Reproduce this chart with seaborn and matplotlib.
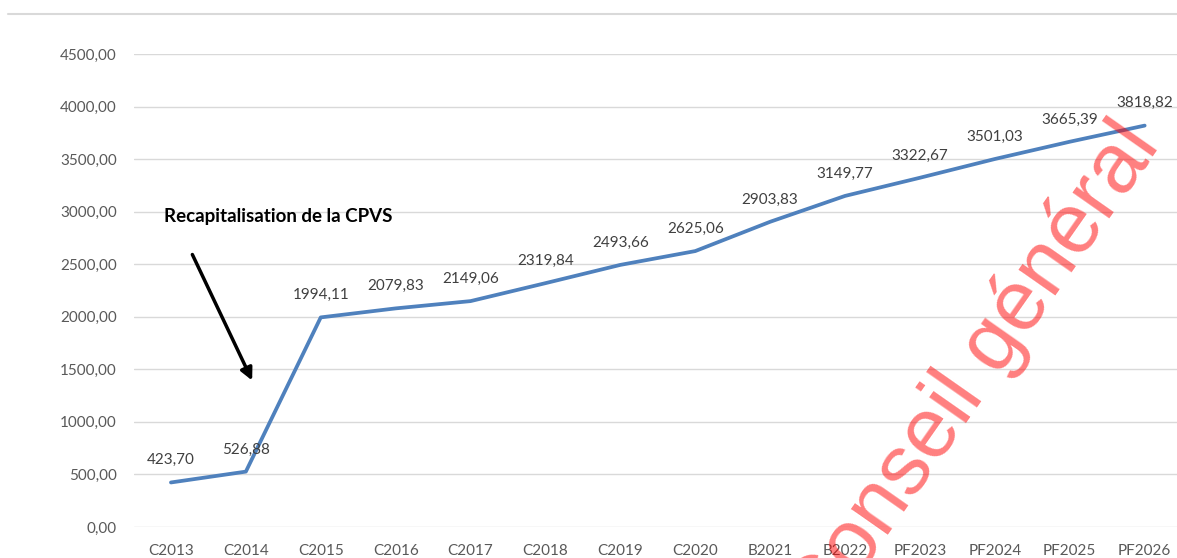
import numpy as np
import seaborn as sns
import matplotlib.pyplot as plt
from matplotlib.lines import Line2D

# data
categories = ['C2013', 'C2014', 'C2015', 'C2016', 'C2017', 'C2018', 'C2019',
              'C2020', 'B2021', 'B2022', 'PF2023', 'PF2024', 'PF2025', 'PF2026']
values = [423.70, 526.88, 1994.11, 2079.83, 2149.06, 2319.84, 2493.66,
          2625.06, 2903.83, 3149.77, 3322.67, 3501.03, 3665.39, 3818.82]
y_ticks = [0, 500, 1000, 1500, 2000, 2500, 3000, 3500, 4000, 4500]


def fr(v):
    return f"{v:.2f}".replace('.', ',')


sns.set_theme(style='white')
plt.rcParams['font.family'] = ['Lato', 'DejaVu Sans']

W, H = 1177, 558
fig = plt.figure(figsize=(W / 100, H / 100), dpi=100)
ax = fig.add_axes([133.5 / W, (H - 527) / H, (14 * 74.9) / W, (527 - 54) / H])

x = np.arange(len(categories))
sns.lineplot(x=x, y=values, ax=ax, color='#4f81bd', linewidth=2.7, zorder=3)

ax.set_xlim(-0.5, len(categories) - 0.5)
ax.set_ylim(0, 4500)
ax.set_xticks(x)
ax.set_xticklabels(categories)
ax.set_yticks(y_ticks)
ax.set_yticklabels([fr(t) for t in y_ticks])
ax.tick_params(axis='both', length=0, labelsize=11, labelcolor='#595959')
ax.tick_params(axis='x', pad=12)
ax.tick_params(axis='y', pad=12)
ax.grid(axis='y', color='#d9d9d9', linewidth=1)
ax.grid(axis='x', visible=False)
for s in ax.spines.values():
    s.set_visible(False)
ax.set_xlabel('')
ax.set_ylabel('')

# data labels
for xi, v in zip(x, values):
    ax.annotate(fr(v), (xi, v), xytext=(0, 16), textcoords='offset points',
                ha='center', va='center', fontsize=11, color='#404040',
                annotation_clip=False)

# annotation with arrow
ax.text(-0.09, 2950, 'Recapitalisation de la CPVS', ha='left', va='center',
        fontsize=13.5, fontweight='bold', color='black')
ax.annotate('', xy=(1.1, 1370), xytext=(0.27, 2616),
            arrowprops=dict(arrowstyle='-|>', color='black', lw=2.5,
                            mutation_scale=18))

# top rule
fig.add_artist(Line2D([8 / W, 1], [1 - 14 / H, 1 - 14 / H],
                      color='#d9d9d9', linewidth=1.5))

# watermark
fig.text(992 / W, 1 - 386 / H, 'Conseil général', rotation=55,
         rotation_mode='anchor', ha='center', va='baseline', fontsize=61,
         family=['Liberation Sans', 'DejaVu Sans'], color='red', alpha=0.5,
         zorder=10)

plt.savefig('out.png', dpi=100)
